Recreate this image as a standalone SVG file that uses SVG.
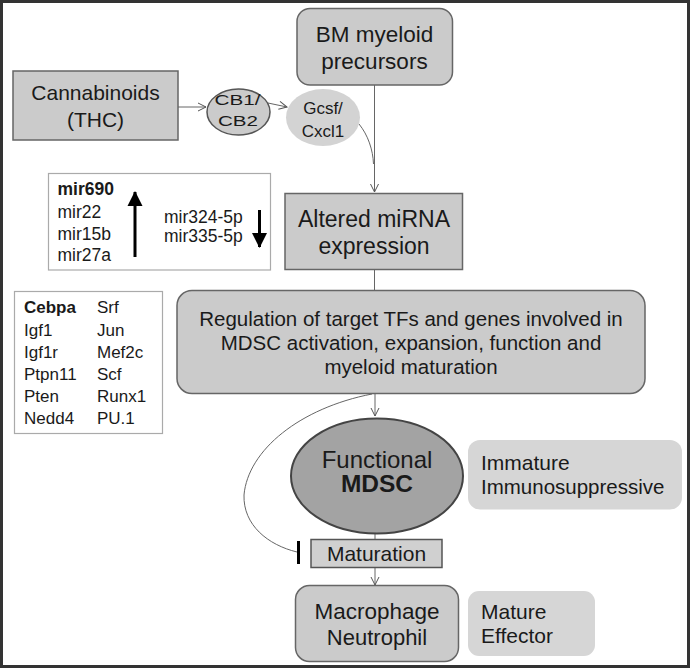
<svg xmlns="http://www.w3.org/2000/svg" width="693" height="670" viewBox="0 0 693 670" font-family="'Liberation Sans', Arimo, Arial, Helvetica, sans-serif">
<style>
text{fill:#1a1a1a}
.box{fill:#cbcbcb;stroke:#666;stroke-width:1.5}
.lite{fill:#d6d6d6;stroke:none}
.lst{fill:#fff;stroke:#aaa;stroke-width:1.2}
.con{fill:none;stroke:#666;stroke-width:1}
.c{text-anchor:middle}
.l{font-size:17.5px}
.g{font-size:17px}
</style>
<defs>
<marker id="open" markerWidth="10" markerHeight="10" refX="9" refY="5" orient="auto" markerUnits="userSpaceOnUse">
<path d="M1,1 L9,5 L1,9" fill="none" stroke="#555" stroke-width="1"/>
</marker>
<marker id="solid" markerWidth="16" markerHeight="16" refX="14" refY="8" orient="auto" markerUnits="userSpaceOnUse">
<path d="M0,0.5 L15,8 L0,15.5 Z" fill="#000"/>
</marker>
</defs>
<rect x="1.5" y="1.5" width="687" height="665" fill="#fff" stroke="#333" stroke-width="3"/>

<g id="connectors">
<line class="con" x1="178" y1="107" x2="206" y2="107" marker-end="url(#open)"/>
<line class="con" x1="268" y1="103" x2="287" y2="107" marker-end="url(#open)"/>
<line class="con" x1="374.5" y1="85" x2="374.5" y2="192" marker-end="url(#open)"/>
<path class="con" d="M359,124 C368,135 373,150 373.5,164"/>
<line class="con" x1="374.5" y1="269" x2="374.5" y2="291"/>
<line class="con" x1="375" y1="393" x2="375" y2="416" marker-end="url(#open)"/>
<line class="con" x1="375" y1="533" x2="375" y2="539"/>
<line class="con" x1="375" y1="567" x2="375" y2="585" marker-end="url(#open)"/>
<path class="con" d="M372,394 C300,408 248,450 244,495 C243,525 268,545 297,552"/>
<line x1="298.5" y1="541" x2="298.5" y2="564" stroke="#000" stroke-width="3"/>
</g>

<g id="cannabinoids">
<rect class="box" x="13" y="71" width="165" height="69"/>
<text class="c" x="95.5" y="100" font-size="21">Cannabinoids</text>
<text class="c" x="95.5" y="127" font-size="21">(THC)</text>
</g>

<g id="cb">
<ellipse cx="238.5" cy="112" rx="31.5" ry="23" fill="#cbcbcb" stroke="#555" stroke-width="1.5"/>
<text x="214.5" y="105" font-size="15.5" textLength="46" lengthAdjust="spacingAndGlyphs">CB1/</text>
<text x="218" y="126" font-size="15.5" textLength="40" lengthAdjust="spacingAndGlyphs">CB2</text>
</g>

<g id="gcsf">
<ellipse cx="323" cy="117.5" rx="37" ry="28.5" fill="#d3d3d3"/>
<text class="c" x="323" y="114" font-size="17">Gcsf/</text>
<text class="c" x="323" y="137" font-size="17">Cxcl1</text>
</g>

<g id="bm">
<rect class="box" x="297" y="8.5" width="155.5" height="76.5" rx="13"/>
<text class="c" x="374.5" y="42" font-size="22.5">BM myeloid</text>
<text class="c" x="374.5" y="68.5" font-size="22.5">precursors</text>
</g>

<g id="mirna">
<rect class="box" x="285" y="193.5" width="177.5" height="76"/>
<text class="c" x="374" y="227" font-size="23">Altered miRNA</text>
<text class="c" x="374" y="253.5" font-size="23">expression</text>
</g>

<g id="mirlist">
<rect class="lst" x="48.5" y="173.5" width="222" height="96.5"/>
<text class="l" x="57.5" y="195" font-weight="bold">mir690</text>
<text class="l" x="57.5" y="218">mir22</text>
<text class="l" x="57.5" y="240">mir15b</text>
<text class="l" x="57.5" y="261">mir27a</text>
<line x1="135" y1="257" x2="135" y2="192" stroke="#000" stroke-width="3" marker-end="url(#solid)"/>
<text class="l" x="164" y="223">mir324-5p</text>
<text class="l" x="164" y="242">mir335-5p</text>
<line x1="259.5" y1="210" x2="259.5" y2="247" stroke="#000" stroke-width="3" marker-end="url(#solid)"/>
</g>

<g id="genes">
<rect class="lst" x="14.5" y="291.5" width="148" height="142"/>
<text class="g" x="24" y="313" font-weight="bold">Cebpa</text>
<text class="g" x="24" y="336">Igf1</text>
<text class="g" x="24" y="358">Igf1r</text>
<text class="g" x="24" y="380">Ptpn11</text>
<text class="g" x="24" y="402">Pten</text>
<text class="g" x="24" y="424">Nedd4</text>
<text class="g" x="97" y="313">Srf</text>
<text class="g" x="97" y="336">Jun</text>
<text class="g" x="97" y="358">Mef2c</text>
<text class="g" x="97" y="380">Scf</text>
<text class="g" x="97" y="402">Runx1</text>
<text class="g" x="97" y="424">PU.1</text>
</g>

<g id="regulation">
<rect class="box" x="177" y="290.5" width="468" height="103" rx="15"/>
<text class="c" x="411" y="325.5" font-size="20.5">Regulation of target TFs and genes involved in</text>
<text class="c" x="411" y="349.5" font-size="20.5">MDSC activation,  expansion, function and</text>
<text class="c" x="411" y="373.5" font-size="20.5">myeloid maturation</text>
</g>

<g id="mdsc">
<ellipse cx="377" cy="476" rx="86" ry="57.5" fill="#a3a3a3" stroke="#444" stroke-width="2"/>
<text class="c" x="377" y="467.5" font-size="24">Functional</text>
<text class="c" x="377" y="491.5" font-size="24.5" font-weight="bold">MDSC</text>
</g>

<g id="immature">
<rect class="lite" x="468" y="440" width="214" height="69.5" rx="12"/>
<text x="481" y="470" font-size="21">Immature</text>
<text x="481" y="493.5" font-size="20.5">Immunosuppressive</text>
</g>

<g id="maturation">
<rect x="311" y="539.5" width="131" height="28" fill="#d0d0d0" stroke="#555" stroke-width="1.5"/>
<text class="c" x="376.5" y="560.5" font-size="21">Maturation</text>
</g>

<g id="macrophage">
<rect class="box" x="295.5" y="585.5" width="163" height="76" rx="14" fill="#d0d0d0"/>
<text class="c" x="377" y="618.5" font-size="22.5">Macrophage</text>
<text class="c" x="377" y="645" font-size="22">Neutrophil</text>
</g>

<g id="mature">
<rect class="lite" x="468" y="591" width="127" height="65" rx="11"/>
<text x="481" y="618.5" font-size="21">Mature</text>
<text x="481" y="643" font-size="21">Effector</text>
</g>
</svg>
